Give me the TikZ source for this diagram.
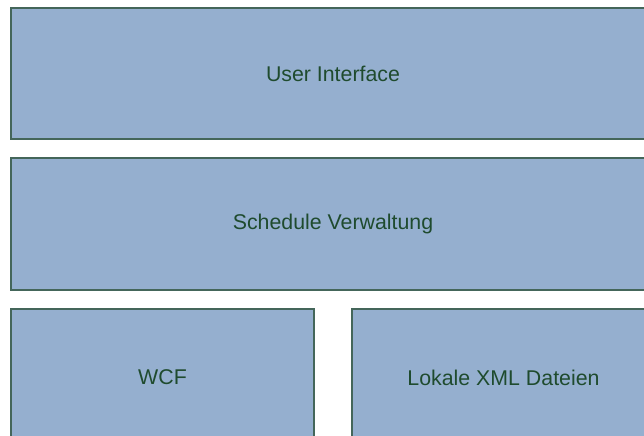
\documentclass[tikz,border=0pt]{standalone}
\usepackage{fontspec}
\setmainfont{Liberation Sans}
\definecolor{layerfill}{HTML}{95AFCF}
\definecolor{layerline}{HTML}{44665A}
\definecolor{layertext}{HTML}{1F4B2E}
\begin{document}
\begin{tikzpicture}[x=0.75pt,y=-0.75pt,
  layer/.style={draw=layerline,fill=layerfill,line width=1.1pt}]
\useasboundingbox (0,0) rectangle (644,436);
\clip (0,0) rectangle (644,436);
\draw[layer] (11,8) rectangle (655,139);
\draw[layer] (11,158) rectangle (655,290);
\draw[layer] (11,309) rectangle (314,446);
\draw[layer] (352,309) rectangle (655,446);
\node[text=layertext,font=\fontsize{16}{19}\selectfont] (ui) at (333,73.5) {User Interface};
\node[text=layertext,font=\fontsize{16}{19}\selectfont] (sv) at (333,224) {Schedule Verwaltung};
\node[text=layertext,font=\fontsize{16}{19}\selectfont] (wcf) at (162.5,377.5) {WCF};
\node[text=layertext,font=\fontsize{16}{19}\selectfont] (xml) at (503.5,377.5) {Lokale XML Dateien};
\end{tikzpicture}
\end{document}
